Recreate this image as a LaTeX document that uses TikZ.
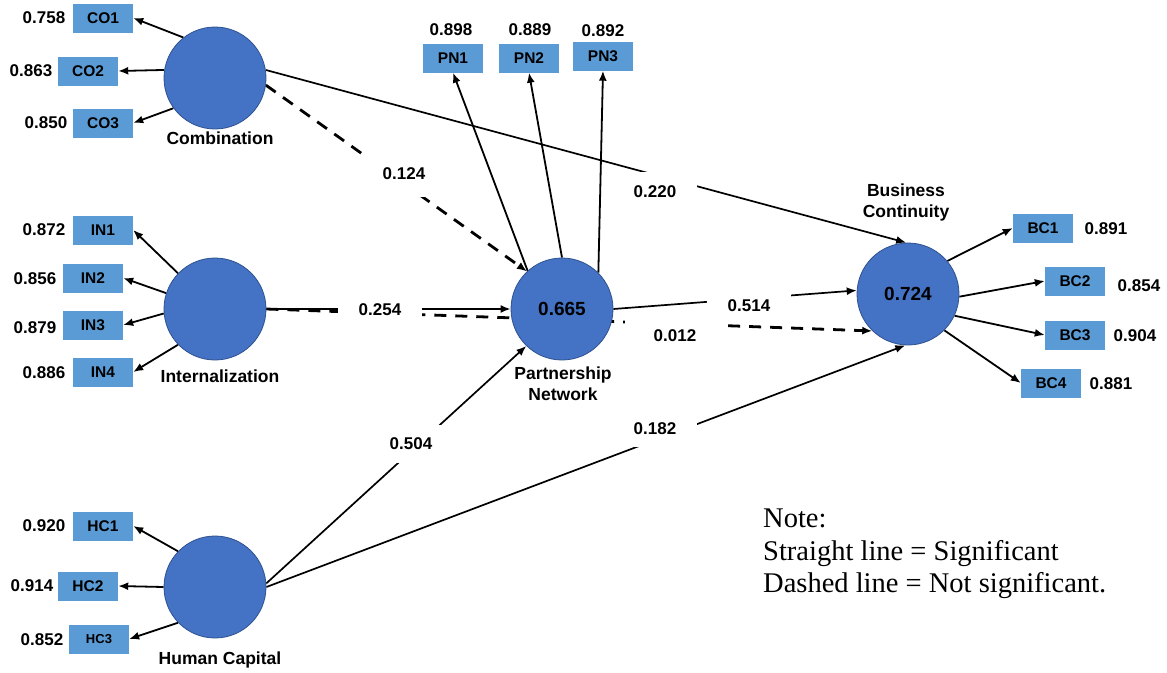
\documentclass[tikz,border=0pt]{standalone}
\usepackage{fontspec}
\setmainfont{Liberation Sans}
\newfontfamily\notefont{Liberation Serif}
\usetikzlibrary{arrows.meta,backgrounds}
\definecolor{circf}{HTML}{4472C4}
\definecolor{circb}{HTML}{2F528F}
\definecolor{boxf}{HTML}{5B9BD5}
\begin{document}
\begin{tikzpicture}[x=1pt,y=-1pt,
  lat/.style={circle, draw=circb, fill=circf, minimum size=102pt, inner sep=0pt, line width=0.8pt, font=\fontsize{19}{20}\selectfont\bfseries},
  ind/.style={rectangle, fill=boxf, minimum width=60pt, minimum height=29pt, inner sep=0pt, font=\fontsize{15.5}{16}\selectfont\bfseries},
  val/.style={inner sep=0pt, font=\fontsize{17}{18}\selectfont\bfseries},
  lbl/.style={inner sep=0pt, align=center, font=\fontsize{17.5}{21}\selectfont\bfseries},
  coef/.style={fill=white, inner sep=0pt, minimum width=84pt, minimum height=40pt, font=\fontsize{17}{18}\selectfont\bfseries},
  ld/.style={line width=1.8pt, -{Latex[length=10pt,width=8pt]}},
  sig/.style={line width=1.7pt, -{Latex[length=10pt,width=8pt]}},
  ns/.style={line width=2.8pt, dash pattern=on 12pt off 9pt, -{Latex[length=10pt,width=8pt]}},
]
\useasboundingbox (0,0) rectangle (1167,672);

% latent variables
\node[lat] (comb) at (215,78) {};
\node[lat] (int) at (215,309) {};
\node[lat] (hc) at (215,587) {};
\node[lat] (pn) at (562,309) {0.665};
\node[lat] (bc) at (908,294) {0.724};

\node[lbl] (combl) at (220,138) {Combination};
\node[lbl] (intl) at (220,376) {Internalization};
\node[lbl] (hcl) at (220,660) {Human Capital};
\node[lbl] (pnl) at (563,384) {Partnership\\Network};
\node[lbl] (bcl) at (906,202) {Business\\Continuity};

% indicators
\node[ind] (co1) at (103,18) {CO1};
\node[ind] (co2) at (88,71) {CO2};
\node[ind] (co3) at (103,123) {CO3};
\node[ind] (in1) at (103,230) {IN1};
\node[ind] (in2) at (93,278) {IN2};
\node[ind] (in3) at (93,325) {IN3};
\node[ind] (in4) at (103,372) {IN4};
\node[ind] (hc1) at (103,526) {HC1};
\node[ind] (hc2) at (88,586) {HC2};
\node[ind, font=\fontsize{13}{14}\selectfont\bfseries] (hc3) at (99,639) {HC3};
\node[ind] (pn1) at (453,58) {PN1};
\node[ind] (pn2) at (529,58) {PN2};
\node[ind] (pn3) at (603,56) {PN3};
\node[ind] (bc1) at (1043,228) {BC1};
\node[ind] (bc2) at (1075,281) {BC2};
\node[ind] (bc3) at (1075,335) {BC3};
\node[ind] (bc4) at (1051,383) {BC4};

% loadings
\node[val] (vco1) at (44,18) {0.758};
\node[val] (vco2) at (31,71) {0.863};
\node[val] (vco3) at (46,123) {0.850};
\node[val] (vin1) at (44,230) {0.872};
\node[val] (vin2) at (35,279) {0.856};
\node[val] (vin3) at (35,328) {0.879};
\node[val] (vin4) at (44,373) {0.886};
\node[val] (vhc1) at (44,526) {0.920};
\node[val] (vhc2) at (32,586) {0.914};
\node[val] (vhc3) at (42,640) {0.852};
\node[val] (vpn1) at (451,30) {0.898};
\node[val] (vpn2) at (530,30) {0.889};
\node[val] (vpn3) at (603,31) {0.892};
\node[val] (vbc1) at (1106,229) {0.891};
\node[val] (vbc2) at (1139,286) {0.854};
\node[val] (vbc3) at (1135,336) {0.904};
\node[val] (vbc4) at (1111,384) {0.881};

\begin{scope}[on background layer]
  % outer loadings
  \draw[ld] (comb.128) -- (co1.east);
  \draw[ld] (comb.171) -- (co2.east);
  \draw[ld] (comb.216) -- (co3.east);
  \draw[ld] (int.136) -- (in1.east);
  \draw[ld] (int.162) -- (in2.east);
  \draw[ld] (int.185) -- (in3.east);
  \draw[ld] (int.224) -- (in4.east);
  \draw[ld] (hc.136) -- (hc1.east);
  \draw[ld] (hc.west) -- (hc2.east);
  \draw[ld] (hc.224) -- (hc3.east);
  \draw[ld] (pn.132) -- (pn1.south);
  \draw[ld] (pn.north) -- (pn2.south);
  \draw[ld] (pn.45) -- (pn3.south);
  \draw[ld] (bc.40) -- (bc1.west);
  \draw[ld] (bc.-3) -- (bc2.west);
  \draw[ld] (bc.-25) -- (bc3.west);
  \draw[ld] (bc.-45) -- (bc4.west);
  % structural paths
  \draw[sig] (comb.9) -- (bc.92);
  \draw[ns] (comb.-8) -- (pn.133);
  \draw[sig] (int.east) -- (pn.west);
  \draw[ns] (int.east) -- (bc.226);
  \draw[sig] (pn.east) -- (bc.176);
  \draw[sig] (hc.4) -- (pn.226);
  \draw[sig] (hc.east) -- (bc.267);
  % coefficients
  \node[coef, minimum height=46pt] (c1) at (404,174) {0.124};
  \node[coef] (c2) at (655,192) {0.220};
  \node[coef] (c3) at (380,310) {0.254};
  \node[coef, minimum height=36pt] (c4) at (749,306) {0.514};
  \node[coef, minimum width=101pt, minimum height=32pt] (c5) at (675,336) {0.012};
  \node[coef, minimum height=38pt] (c6) at (411,444) {0.504};
  \node[coef, minimum height=36pt] (c7) at (655,429) {0.182};
\end{scope}

% note
\node[anchor=north west, inner sep=0pt, align=left, font=\notefont\fontsize{28.5}{32.5}\selectfont] (note) at (763,509)
  {Note:\\Straight line = Significant\\Dashed line = Not significant.};
\end{tikzpicture}
\end{document}
